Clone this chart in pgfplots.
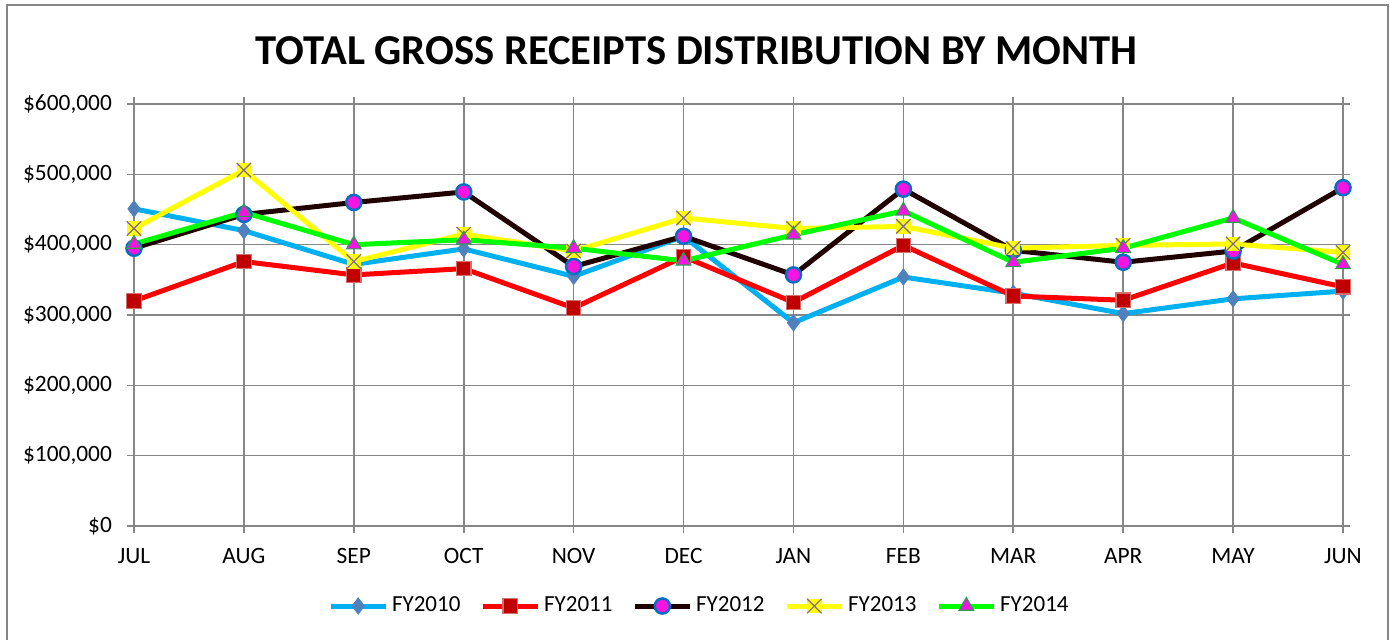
\documentclass[border=0pt]{standalone}
\usepackage{pgfplots}
\pgfplotsset{compat=1.18}
\usepackage{fontspec}
\setmainfont{Carlito}
\usetikzlibrary{plotmarks}

\definecolor{c10line}{RGB}{0,176,240}
\definecolor{c10mark}{RGB}{79,129,189}
\definecolor{c11line}{RGB}{255,0,0}
\definecolor{c11mark}{RGB}{192,0,0}
\definecolor{c11edge}{RGB}{215,110,110}
\definecolor{c12line}{RGB}{32,0,0}
\definecolor{magentaM}{RGB}{245,20,225}
\definecolor{c12edge}{RGB}{0,112,192}
\definecolor{c13line}{RGB}{255,255,0}
\definecolor{c13x}{RGB}{128,100,162}
\definecolor{c14line}{RGB}{0,255,0}
\definecolor{c14edge}{RGB}{40,160,80}
\definecolor{gridgray}{RGB}{134,134,134}

% yellow square with an X on it, as Excel draws a filled x marker
\pgfdeclareplotmark{xsq}{%
  \pgfpathrectangle{\pgfpoint{-\pgfplotmarksize}{-\pgfplotmarksize}}{\pgfpoint{2\pgfplotmarksize}{2\pgfplotmarksize}}%
  \pgfusepath{fill}%
  \pgfpathmoveto{\pgfpoint{-\pgfplotmarksize}{-\pgfplotmarksize}}%
  \pgfpathlineto{\pgfpoint{\pgfplotmarksize}{\pgfplotmarksize}}%
  \pgfpathmoveto{\pgfpoint{-\pgfplotmarksize}{\pgfplotmarksize}}%
  \pgfpathlineto{\pgfpoint{\pgfplotmarksize}{-\pgfplotmarksize}}%
  \pgfusepath{stroke}%
}

\begin{document}
\begin{tikzpicture}
\useasboundingbox (-67pt,-56.5pt) rectangle (628pt,263pt);
\draw[gridgray, line width=0.8pt] (-63.5pt,-70pt) -- (-63.5pt,260.5pt) -- (627pt,260.5pt) -- (627pt,-70pt);
\begin{axis}[
    at={(0,0)}, anchor=south west,
    scale only axis,
    width=604.5pt, height=211pt,
    xmin=0, xmax=11,
    ymin=0, ymax=600000,
    xtick={0,...,11},
    xticklabels={JUL,AUG,SEP,OCT,NOV,DEC,JAN,FEB,MAR,APR,MAY,JUN},
    ytick={0,100000,200000,300000,400000,500000,600000},
    yticklabels={{\$0},{\$100,000},{\$200,000},{\$300,000},{\$400,000},{\$500,000},{\$600,000}},
    scaled y ticks=false,
    tick align=outside,
    major tick length=3.5pt,
    tick style={gridgray, line width=0.8pt},
    xmajorgrids, ymajorgrids,
    grid style={gridgray, line width=0.8pt},
    axis line style={gridgray, line width=0.8pt},
    ticklabel style={font=\fontsize{11.7}{14}\selectfont, text=black},
    xticklabel style={yshift=-4pt},
    yticklabel style={xshift=-4pt},
    title={TOTAL GROSS RECEIPTS DISTRIBUTION BY MONTH},
    title style={at={(0.5,1)}, anchor=center, xshift=-21pt, yshift=20.5pt, font=\fontsize{21.3}{25}\selectfont\bfseries},
    legend columns=5,
    legend style={at={(0.5,0)}, anchor=center, xshift=-19pt, yshift=-40pt, draw=none, fill=none,
        font=\fontsize{11.5}{14}\selectfont,
        /tikz/every even column/.append style={column sep=8pt}},
    legend cell align=left,
    legend image code/.code={\draw[mark repeat=2,mark phase=2] plot coordinates {(0cm,0cm)(0.48cm,0cm)(0.96cm,0cm)};},
    every axis plot/.append style={line width=2.5pt},
    clip=false,
]
\addplot[c10line, mark=diamond*, mark size=4pt, mark options={fill=c10mark, draw=c10mark, line width=0.5pt}] coordinates {
(0,451000) (1,420000) (2,372000) (3,394000) (4,355000) (5,412000)
(6,289000) (7,354000) (8,331000) (9,302000) (10,323000) (11,334000)
};
\addlegendentry{FY2010}
\addplot[c11line, mark=square*, mark size=3.6pt, mark options={fill=c11mark, draw=c11edge, line width=0.6pt}] coordinates {
(0,320000) (1,376000) (2,357000) (3,366000) (4,310000) (5,383000)
(6,318000) (7,399000) (8,327000) (9,321000) (10,374000) (11,340000)
};
\addlegendentry{FY2011}
\addplot[c12line, mark=*, mark size=3.8pt, mark options={fill=magentaM, draw=c12edge, line width=1.2pt}] coordinates {
(0,395000) (1,443000) (2,460000) (3,475000) (4,369000) (5,412000)
(6,357000) (7,479000) (8,392000) (9,375000) (10,391000) (11,481000)
};
\addlegendentry{FY2012}
\addplot[c13line, mark=xsq, mark size=3.6pt, mark options={fill=c13line, draw=c13x, line width=0.6pt}] coordinates {
(0,423000) (1,506000) (2,376000) (3,415000) (4,391000) (5,438000)
(6,423000) (7,426000) (8,395000) (9,399000) (10,401000) (11,389000)
};
\addlegendentry{FY2013}
\addplot[c14line, mark=triangle*, mark size=4.2pt, mark options={fill=magentaM, draw=c14edge, line width=0.6pt}] coordinates {
(0,401000) (1,446000) (2,400000) (3,407000) (4,395000) (5,377000)
(6,414000) (7,448000) (8,375000) (9,395000) (10,438000) (11,372000)
};
\addlegendentry{FY2014}
\end{axis}
\end{tikzpicture}
\end{document}
